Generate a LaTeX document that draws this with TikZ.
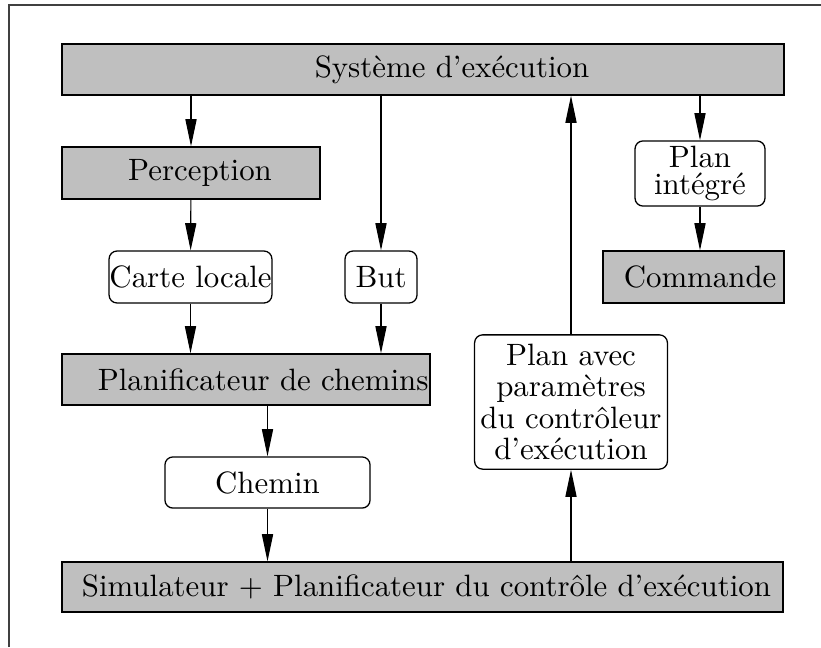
\documentclass[tikz,border=0pt]{standalone}
\usepackage{tikz}
\usetikzlibrary{arrows.meta}
\definecolor{gris}{RGB}{191,191,191}

\tikzset{
  grisbox/.style={draw,fill=gris,inner sep=0pt,line width=0.45pt},
  blancbox/.style={draw,fill=white,rounded corners=2.8pt,inner sep=0pt,line width=0.45pt,align=center},
  fleche/.style={-{Triangle[length=9.5pt,width=3.9pt]},line width=0.4pt}
}

\begin{document}
\begin{tikzpicture}[x=0.35pt,y=-0.35pt,font=\fontsize{10.8}{10.9}\selectfont]
                    \useasboundingbox (0,0) rectangle (821,647);
                    \draw[line width=0.5pt,black!75] (9,647) -- (9,5) -- (821,5);

                    % boites grises
                    \node[grisbox,minimum width=252.7pt,minimum height=17.9pt] (sys) at (423,69.5) {\hspace*{20.3pt}Syst\`eme d'ex\'ecution};
                    \node[grisbox,minimum width=90.3pt,minimum height=18.2pt] (perc) at (191,173) {\hspace*{6.3pt}Perception};
                    \node[grisbox,minimum width=128.8pt,minimum height=17.9pt] (planif) at (246,379.5) {\hspace*{12pt}Planificateur de chemins};
                    \node[grisbox,minimum width=252.4pt,minimum height=17.5pt] (simu) at (422.5,587) {\hspace*{2.8pt}Simulateur + Planificateur du contr\^ole d'ex\'ecution};
                    \node[grisbox,minimum width=63.4pt,minimum height=18.2pt] (cmd) at (693.5,277) {\hspace*{4.6pt}Commande};

                    % boites blanches
                    \node[blancbox,minimum width=57pt,minimum height=18.2pt] (carte) at (190.5,277) {Carte locale};
                    \node[blancbox,minimum width=25.2pt,minimum height=18.2pt] (but) at (381,277) {But};
                    \node[blancbox,minimum width=71.8pt,minimum height=17.9pt] (chemin) at (267.5,482.5) {Chemin};
                    \node[blancbox,minimum width=67.5pt,minimum height=47pt] (avec) at (571,402) {Plan avec\\param\`etres\\du contr\^oleur\\d'ex\'ecution};
                    \node[blancbox,minimum width=45.5pt,minimum height=22.8pt,font=\fontsize{10.8}{9.4}\selectfont] (integ) at (700,173.5) {Plan\\int\'egr\'e};

                    % fleches
                    \draw[fleche] (sys.south -| perc) -- (perc.north);
                    \draw[fleche] (perc) -- (carte);
                    \draw[fleche] (carte) -- (carte |- planif.north);
                    \draw[fleche] (sys.south -| but) -- (but.north);
                    \draw[fleche] (but) -- (but |- planif.north);
                    \draw[fleche] (planif.south -| chemin) -- (chemin.north);
                    \draw[fleche] (chemin) -- (chemin |- simu.north);
                    \draw[fleche] (simu.north -| avec) -- (avec.south);
                    \draw[fleche] (avec) -- (avec |- sys.south);
                    \draw[fleche] (sys.south -| integ) -- (integ.north);
                    \draw[fleche] (integ) -- (integ |- cmd.north);
                \end{tikzpicture}
\end{document}
